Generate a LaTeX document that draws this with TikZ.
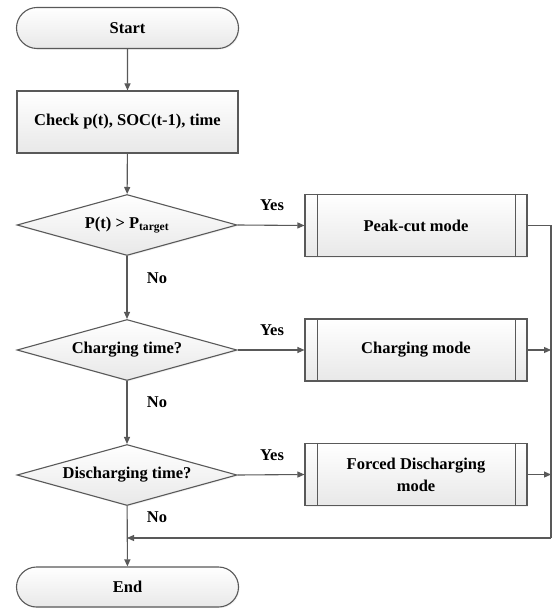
\documentclass[tikz,border=0pt]{standalone}
\usepackage{fontspec}
\setmainfont{Liberation Serif}
\usetikzlibrary{shapes.geometric,shapes.misc,arrows.meta,shadows}
\begin{document}
\begin{tikzpicture}[x=1pt,y=-1pt,
  line/.style={draw=black!65, line width=1.1pt},
  arr/.style={line, -{Triangle[length=7pt,width=6pt]}},
  boxfill/.style={top color=white, bottom color=black!9, draw=black!65, line width=1.1pt,
     drop shadow={shadow xshift=1.2pt, shadow yshift=-1.2pt, opacity=0.1}},
  txt/.style={font=\fontsize{16.5}{19}\selectfont\bfseries},
  term/.style={boxfill, txt, rounded rectangle, minimum width=222pt, minimum height=41pt, inner sep=0pt},
  proc/.style={boxfill, txt, rectangle, minimum width=222pt, minimum height=62pt, inner sep=0pt, align=center},
  dec/.style={boxfill, txt, diamond, aspect=3.6, minimum width=220pt, minimum height=61pt, inner sep=0pt},
  lbl/.style={txt, inner sep=0pt}
]
\useasboundingbox (0,0) rectangle (557,609);

\node[term] (start) at (127.5,28) {Start};
\node[proc, minimum width=221pt] (check) at (127.5,122) {Check p(t), SOC(t-1), time};
\node[dec] (d1) at (127,225) {P(t) > P\textsubscript{target}};
\node[dec] (d2) at (127,350) {Charging time?};
\node[dec] (d3) at (127,475) {Discharging time?};
\node[term, minimum height=40pt] (end) at (127.5,587) {End};

\node[proc] (peak) at (416,225.5) {Peak-cut mode};
\node[proc] (charge) at (416,350) {Charging mode};
\node[proc] (forced) at (416,474.5) {Forced Discharging\\[3pt]mode};

\foreach \n in {peak,charge,forced}{
  \draw[line] ([xshift=13pt]\n.north west) -- ([xshift=13pt]\n.south west);
  \draw[line] ([xshift=-12pt]\n.north east) -- ([xshift=-12pt]\n.south east);
}

\coordinate (rtop) at (551,225.5);
\coordinate (rbot) at (551,538);
\coordinate (join) at (127,538);

\draw[arr] (start) -- (check);
\draw[arr] (check) -- (d1);
\draw[arr] (d1) -- (d2);
\draw[arr] (d2) -- (d3);
\draw[arr] (d3) -- (end);

\draw[arr] (d1.east) -- (peak.west);
\draw[arr] (d2.east) -- (charge.west);
\draw[arr] (d3.east) -- (forced.west);

\draw[line] (peak.east) -- (rtop) -- (rbot);
\draw[arr] (charge.east) -- (charge.east -| rtop);
\draw[arr] (forced.east) -- (forced.east -| rtop);
\draw[arr] (rbot) -- (join);

\node[lbl] (y1) at (272,205) {Yes};
\node[lbl] (y2) at (272,330) {Yes};
\node[lbl] (y3) at (272,455) {Yes};
\node[lbl] (n1) at (157,278) {No};
\node[lbl] (n2) at (157,402) {No};
\node[lbl] (n3) at (157,517) {No};
\end{tikzpicture}
\end{document}
